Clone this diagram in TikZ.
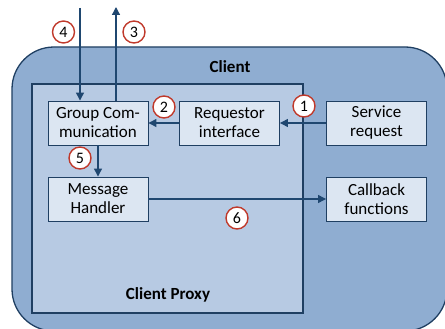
\documentclass[tikz,border=0pt]{standalone}
\usepackage{fontspec}
\setmainfont{Carlito}
\usetikzlibrary{arrows.meta}
\definecolor{outerfill}{HTML}{8FADD1}
\definecolor{innerfill}{HTML}{B7CAE3}
\definecolor{boxfill}{HTML}{DCE6F2}
\definecolor{edge}{HTML}{1F3F62}
\definecolor{arrowc}{HTML}{1F4770}
\definecolor{numred}{HTML}{C0392B}
\tikzset{
  box/.style={draw=edge, line width=0.9pt, fill=boxfill, minimum width=100pt, minimum height=44pt,
    inner sep=0pt, align=center, font=\fontsize{17}{19}\selectfont},
  num/.style={circle, draw=numred, line width=1.4pt, fill=white, minimum size=22pt, inner sep=0pt,
    font=\fontsize{16}{16}\selectfont},
  flow/.style={draw=arrowc, line width=1.3pt, -{Triangle[length=8pt,width=8pt]}},
  title/.style={font=\bfseries\fontsize{17}{19}\selectfont}
}
\begin{document}
\begin{tikzpicture}[x=1pt,y=-1pt]
\useasboundingbox (0,0) rectangle (445,329);
\clip (0,0) rectangle (445,329);
\draw[draw=edge, line width=1.3pt, fill=outerfill, rounded corners=42pt] (12,47) rectangle (447,331);
\draw[draw=edge, line width=1.3pt, fill=innerfill] (32,84) rectangle (303,313);
\node[title] (client) at (230,67) {Client};
\node[title] (proxy) at (168,295) {Client Proxy};

\node[box] (gc) at (98,123) {Group Com-\\munication};
\node[box] (ri) at (229.5,123) {Requestor\\interface};
\node[box] (sr) at (376.5,123) {Service\\request};
\node[box] (mh) at (98,199) {Message\\Handler};
\node[box] (cf) at (376.5,199) {Callback\\functions};

\coordinate (in4) at (80,8);
\coordinate (out3) at (116,7);

\draw[flow] (in4) -- (in4 |- gc.north);
\draw[flow] (out3 |- gc.north) -- (out3);
\draw[flow] (sr.west) -- (ri.east);
\draw[flow] (ri.west) -- (gc.east);
\draw[flow] (gc.south) -- (mh.north);
\draw[flow] (mh.east) -- (cf.west);

\node[num] (n1) at (304,106) {1};
\node[num] (n2) at (164,107) {2};
\node[num] (n3) at (134,32) {3};
\node[num] (n4) at (63.5,32) {4};
\node[num] (n5) at (80,158) {5};
\node[num] (n6) at (237,218) {6};
\end{tikzpicture}
\end{document}
